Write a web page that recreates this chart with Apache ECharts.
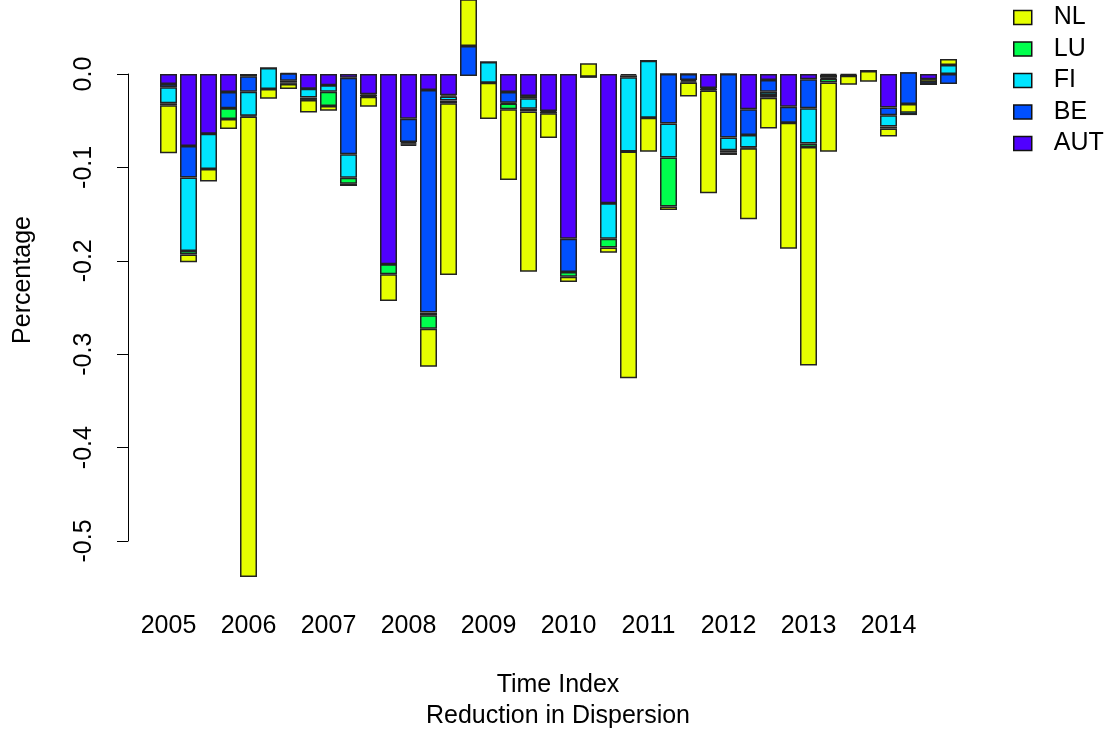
<!DOCTYPE html>
<html>
<head>
<meta charset="utf-8">
<title>Reduction in Dispersion</title>
<script src="https://cdn.jsdelivr.net/npm/echarts@6/dist/echarts.min.js"></script>
<style>
  html, body { margin: 0; padding: 0; background: #ffffff; }
  #chart { width: 1106px; height: 735px; }
</style>
</head>
<body>
<div id="chart"></div>
<script>
// Quarterly contributions per country (2005 Q1 – 2014 Q4), stacked cumulatively
const years = ['2005', '2006', '2007', '2008', '2009', '2010', '2011', '2012', '2013', '2014'];
const quarters = years.flatMap(y => ['Q1', 'Q2', 'Q3', 'Q4'].map(q => y + ' ' + q));

const AUT = [
  -0.0107, -0.0771, -0.0640, -0.0193, -0.0025,  0.0064,  0.0008, -0.0157,
  -0.0121, -0.0040, -0.0218, -0.2037, -0.0478, -0.0171, -0.0228, -0.0021,
   0.0128, -0.0193, -0.0236, -0.0396, -0.1763, -0.0029, -0.1385, -0.0015,
   0.0143,  0.0000,  0.0000, -0.0150,  0.0000, -0.0378, -0.0064, -0.0350,
  -0.0057, -0.0010, -0.0010,  0.0032, -0.0360,  0.0018, -0.0057, -0.0107
];
const BE = [
  -0.0035, -0.0338,  0.0000, -0.0175, -0.0164,  0.0000, -0.0079,  0.0000,
   0.0000, -0.0820, -0.0013,  0.0000, -0.0250, -0.2384, -0.0014,  0.0321,
   0.0000, -0.0114, -0.0025, -0.0013, -0.0357,  0.0000,  0.0000, -0.0020,
   0.0000, -0.0530, -0.0064, -0.0014, -0.0680, -0.0275, -0.0125, -0.0171,
  -0.0310, -0.0030, -0.0010,  0.0000, -0.0082, -0.0340, -0.0053,  0.0107
];
const FI = [
  -0.0171, -0.0787, -0.0378,  0.0000, -0.0257, -0.0224, -0.0018, -0.0096,
  -0.0068, -0.0250,  0.0000,  0.0000, -0.0014, -0.0029, -0.0043,  0.0000,
  -0.0221, -0.0010, -0.0110,  0.0000,  0.0000,  0.0000, -0.0378, -0.0796,
  -0.0611, -0.0364, -0.0014,  0.0000, -0.0136, -0.0135, -0.0036,  0.0000,
  -0.0378, -0.0010,  0.0000,  0.0000, -0.0121, -0.0118,  0.0000,  0.0096
];
const LU = [
  -0.0021, -0.0037,  0.0000, -0.0114, -0.0010,  0.0000, -0.0017, -0.0025,
  -0.0154, -0.0064, -0.0013, -0.0107, -0.0014, -0.0143, -0.0029,  0.0000,
   0.0000, -0.0061, -0.0030, -0.0012, -0.0050,  0.0000, -0.0096,  0.0000,
   0.0000, -0.0525, -0.0014, -0.0014, -0.0025, -0.0008, -0.0029,  0.0000,
  -0.0037, -0.0040,  0.0000,  0.0000, -0.0021,  0.0025,  0.0020,  0.0000
];
const NL = [
  -0.0514, -0.0083, -0.0132, -0.0107, -0.4930, -0.0104, -0.0054, -0.0135,
  -0.0050, -0.0025, -0.0107, -0.0286, -0.0015, -0.0407, -0.1838,  0.0900,
  -0.0389, -0.0757, -0.1716, -0.0263, -0.0057,  0.0143, -0.0054, -0.2426,
  -0.0364, -0.0036, -0.0150, -0.1099, -0.0026, -0.0759, -0.0329, -0.1349,
  -0.2338, -0.0742, -0.0095, -0.0114, -0.0086,  0.0093,  0.0033,  0.0064
];

const countries = ['AUT', 'BE', 'FI', 'LU', 'NL'];
const values = { AUT, BE, FI, LU, NL };
const colors = { AUT: '#5000FF', BE: '#0050FF', FI: '#00E5FF', LU: '#00FF4D', NL: '#E6FF00' };
const legendOrder = ['NL', 'LU', 'FI', 'BE', 'AUT'];
const yTicks = { min: -0.5, max: 0, step: 0.1 };

const FONT = "'Liberation Sans', Arial, Helvetica, sans-serif";
const FS = 25;

const chart = echarts.init(document.getElementById('chart'), null, { renderer: 'canvas' });

chart.setOption({
  animation: false,
  backgroundColor: '#ffffff',
  textStyle: { fontFamily: FONT, color: '#000' },
  grid: [
    // plotting region for the bars
    { left: 158.5, width: 800, top: 0, height: 597 },
    // region carrying the visible value axis (0.0 down to -0.5)
    { left: 128, width: 10, top: 74, height: 467 }
  ],
  xAxis: [
    {
      gridIndex: 0,
      type: 'category',
      data: quarters,
      axisLine: { show: false },
      axisTick: { show: false },
      axisLabel: {
        interval: 3,
        formatter: v => v.slice(0, 4),
        fontSize: FS,
        fontFamily: FONT,
        color: '#000',
        margin: 17
      }
    },
    { gridIndex: 1, type: 'value', show: false }
  ],
  yAxis: [
    { gridIndex: 0, type: 'value', min: -0.56, max: 74 / 934, show: false },
    {
      gridIndex: 1,
      type: 'value',
      min: yTicks.min,
      max: yTicks.max,
      interval: yTicks.step,
      axisLine: { show: true, lineStyle: { color: '#000', width: 1 } },
      axisTick: { show: true, length: 11, lineStyle: { color: '#000', width: 1 } },
      splitLine: { show: false },
      axisLabel: {
        rotate: 90,
        fontSize: FS,
        fontFamily: FONT,
        color: '#000',
        margin: 31,
        formatter: v => v.toFixed(1)
      }
    }
  ],
  legend: {
    orient: 'vertical',
    left: 1013,
    top: 5,
    padding: 0,
    data: legendOrder,
    icon: 'rect',
    itemWidth: 18,
    itemHeight: 14,
    itemGap: 6.5,
    itemStyle: { borderColor: '#111', borderWidth: 1.5 },
    textStyle: { fontSize: FS, fontFamily: FONT, color: '#000', lineHeight: 24, padding: [0, 0, 0, 17] },
    selectedMode: false
  },
  graphic: [
    {
      type: 'text',
      x: 23, y: 280,
      rotation: Math.PI / 2,
      style: { text: 'Percentage', font: FS + 'px ' + FONT, fill: '#000', align: 'center', verticalAlign: 'middle' }
    },
    {
      type: 'text',
      x: 558, y: 685,
      style: { text: 'Time Index', font: FS + 'px ' + FONT, fill: '#000', align: 'center', verticalAlign: 'middle' }
    },
    {
      type: 'text',
      x: 558, y: 716,
      style: { text: 'Reduction in Dispersion', font: FS + 'px ' + FONT, fill: '#000', align: 'center', verticalAlign: 'middle' }
    }
  ],
  series: countries.map(name => ({
    name,
    type: 'bar',
    xAxisIndex: 0,
    yAxisIndex: 0,
    stack: 'total',
    stackStrategy: 'all',
    barWidth: 17,
    clip: true,
    data: values[name],
    itemStyle: { color: colors[name], borderColor: '#222', borderWidth: 1.5 },
    emphasis: { disabled: true }
  }))
});
</script>
</body>
</html>
